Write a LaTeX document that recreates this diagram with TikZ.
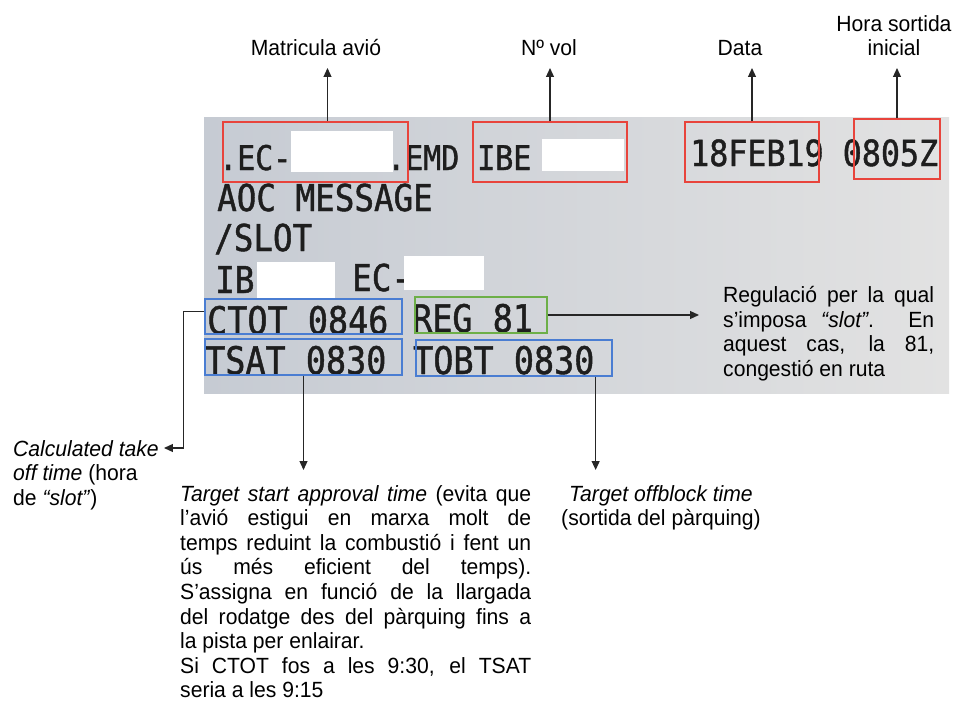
\documentclass[tikz,border=0pt]{standalone}
\usepackage{fontspec}
\setmainfont{Liberation Sans}[FakeStretch=0.96]
\newfontfamily\prnfont{DejaVu Sans Mono}[FakeStretch=0.88,FakeBold=1.2]
\usetikzlibrary{arrows.meta,positioning,fit}
\definecolor{redbox}{HTML}{E8443C}
\definecolor{bluebox}{HTML}{4A7DD2}
\definecolor{greenbox}{HTML}{6DAF48}
\definecolor{ink}{HTML}{1E1E1E}
\definecolor{bgleft}{HTML}{C6CBD3}
\definecolor{bgright}{HTML}{E2E2E2}
\tikzset{
  ar/.style={-{Triangle[length=9pt,width=8pt]},line width=1.2pt,black!85},
  tbox/.style={draw=#1,line width=1.3pt,inner sep=0pt},
  prn/.style={font=\prnfont\fontsize{#1}{#1}\selectfont,text=ink,inner sep=0pt,anchor=base west},
  lbl/.style={font=\fontsize{22}{24.6}\selectfont,inner xsep=0pt,inner ysep=15pt},
  toplbl/.style={lbl,inner ysep=12pt,text depth=0pt,anchor=south,align=center}
}
\newcommand{\hidebox}[4]{\fill[white] (#1,#2) rectangle (#3,#4);}

\begin{document}
\begin{tikzpicture}[x=1pt,y=-1pt]
\useasboundingbox (0,0) rectangle (961,706);
% printout
\shade[left color=bgleft,right color=bgright] (204,118) rectangle (949,393);
\node[prn=34] (pec) at (219,170) {.EC-};
\node[prn=34] (pemd) at (387,170) {.EMD IBE};
\node[prn=36] (pdate) at (690,166) {18FEB19 0805Z};
\node[prn=37] (paoc) at (217,211) {AOC MESSAGE};
\node[prn=37] (pslot) at (214,251) {/SLOT};
\node[prn=37] (pib) at (215,293) {IB};
\node[prn=37] (pec2) at (352,291) {EC-};
\node[prn=38] (pctot) at (207,334) {CTOT 0846};
\node[prn=38] (preg) at (412,332) {REG 81};
\node[prn=38] (ptsat) at (205,374) {TSAT 0830};
\node[prn=38] (ptobt) at (413,374) {TOBT 0830};
\hidebox{291}{131}{393}{172}
\hidebox{542}{139}{624}{171}
\hidebox{257}{262}{335}{299}
\hidebox{404}{256}{484}{290}
% marked fields
\node[tbox=redbox,fit={(223,122) (408,182)}] (bmat) {};
\node[tbox=redbox,fit={(473,122) (627,182)}] (bvol) {};
\node[tbox=redbox,fit={(685,122) (819,182)}] (bdata) {};
\node[tbox=redbox,fit={(854,119) (940,179)}] (bhora) {};
\node[tbox=bluebox,fit={(205,299) (402,334)}] (bctot) {};
\node[tbox=greenbox,fit={(415,297) (547,333)}] (breg) {};
\node[tbox=bluebox,fit={(205,339) (402,375)}] (btsat) {};
\node[tbox=bluebox,fit={(416,340) (612,376)}] (btobt) {};
% labels
\node[toplbl] (lmat) at (316,68) {Matricula avió};
\node[toplbl] (lvol) at (549,68) {Nº vol};
\node[toplbl] (ldata) at (740,68) {Data};
\node[toplbl] (lhora) at (894,68) {Hora sortida\\inicial};
\node[lbl,inner sep=0pt,align=left,anchor=north west] (lctot) at (13,440)
  {\textit{Calculated take}\\\textit{off time} (hora\\de \textit{“slot”})};
\node[lbl,inner xsep=24pt,inner ysep=0pt,text width=211pt,align=justify,anchor=north west] (lreg) at (699,286)
  {Regulació per la qual\linebreak s’imposa \textit{“slot”}. En\linebreak aquest cas, la 81,\linebreak congestió en ruta};
\node[lbl,text width=351pt,align=justify,anchor=north west] (ltsat) at (180,470)
  {\textit{Target start approval time} (evita que\linebreak l’avió estigui en marxa molt de\linebreak
   temps reduint la combustió i fent un\linebreak ús més eficient del temps).\linebreak
   S’assigna en funció de la llargada\linebreak del rodatge des del pàrquing fins a\linebreak
   la pista per enlairar.\par Si CTOT fos a les 9:30, el TSAT\linebreak seria a les 9:15};
\node[lbl,align=center,anchor=north] (ltobt) at (661,470)
  {\textit{Target offblock time}\\(sortida del pàrquing)};
% connectors
\coordinate (matout) at ([xshift=12pt]bmat.north);
\coordinate (tobtout) at ([xshift=-17pt]btobt.south east);
\draw[ar] (matout) -- (matout |- lmat.south);
\draw[ar] (bvol.north) -- (bvol.north |- lvol.south);
\draw[ar] (bdata.north) -- (bdata.north |- ldata.south);
\draw[ar] (bhora.north) -- (bhora.north |- lhora.south);
\draw[ar] (breg.east) -- (breg.east -| lreg.west);
\draw[ar] ([yshift=5pt]bctot.west) -- ++(-21,0) |- ([xshift=5pt,yshift=-8pt]lctot.north east);
\draw[ar] (btsat.south) -- (btsat.south |- ltsat.north);
\draw[ar] (tobtout) -- (tobtout |- ltobt.north);
\end{tikzpicture}
\end{document}
